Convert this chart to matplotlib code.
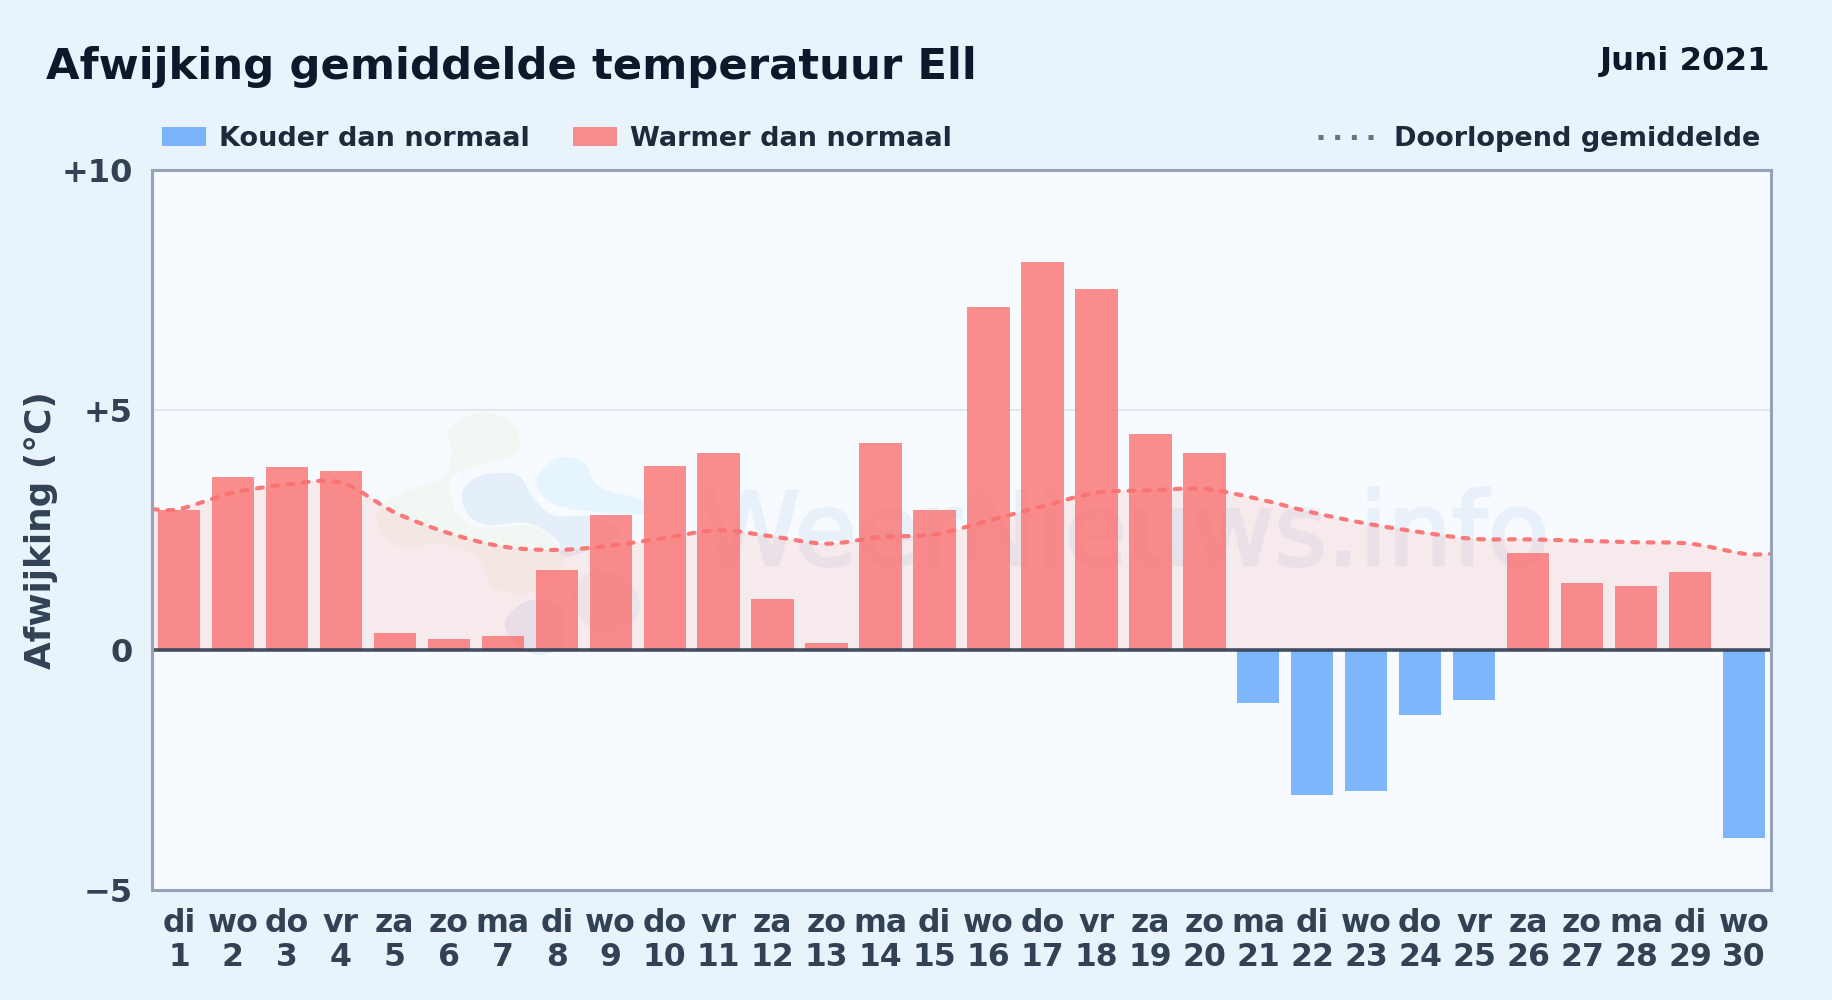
import numpy as np
import matplotlib
matplotlib.use("Agg")
import matplotlib.pyplot as plt
import matplotlib.patheffects as pe
from matplotlib.path import Path
from matplotlib.patches import PathPatch, Rectangle
from matplotlib.lines import Line2D
from matplotlib.transforms import Affine2D

days = list(range(1, 31))
weekdays = ["di", "wo", "do", "vr", "za", "zo", "ma", "di", "wo", "do", "vr", "za", "zo", "ma", "di",
            "wo", "do", "vr", "za", "zo", "ma", "di", "wo", "do", "vr", "za", "zo", "ma", "di", "wo"]
deviation = [2.92, 3.60, 3.80, 3.73, 0.36, 0.23, 0.29, 1.67, 2.81, 3.83, 4.10, 1.06, 0.15, 4.31, 2.92,
             7.14, 8.08, 7.51, 4.50, 4.10, -1.10, -3.02, -2.93, -1.36, -1.05, 2.02, 1.40, 1.33, 1.62, -3.92]
running_mean = [2.93, 3.27, 3.44, 3.48, 2.86, 2.43, 2.15, 2.08, 2.17, 2.33, 2.49, 2.36, 2.21, 2.35, 2.40,
                2.69, 2.99, 3.27, 3.32, 3.35, 3.14, 2.86, 2.63, 2.45, 2.31, 2.30, 2.27, 2.24, 2.21, 2.00]
y_ticks = [-5, 0, 5, 10]
y_tick_labels = ["\u22125", "0", "+5", "+10"]

W, H = 1832, 1000
BG = "#e8f3fc"
PLOT_BG = "#f7fbff"
RED = "#fa7272"
BLUE = "#60a5fa"
INK = "#0f172a"
LEGEND_INK = "#1e293b"
AXIS_INK = "#334155"
plt.rcParams["font.family"] = "DejaVu Sans"
plt.rcParams["lines.scale_dashes"] = False

fig = plt.figure(figsize=(W / 100, H / 100), dpi=100, facecolor=BG)
L, R, T, B = 152, 1771, 169.5, 890
ax = fig.add_axes([L / W, 1 - B / H, (R - L) / W, (B - T) / H], facecolor=PLOT_BG)
ax.set_xlim(0.5, 30.5)
ax.set_ylim(-5, 10)
px = Affine2D().scale(1, -1).translate(0, H)


def closed_blob(points):
    p = np.array(points, float)
    n = len(p)
    verts, codes = [p[0]], [Path.MOVETO]
    for i in range(n):
        p0, p1, p2, p3 = p[i - 1], p[i], p[(i + 1) % n], p[(i + 2) % n]
        verts += [p1 + (p2 - p0) / 6, p2 - (p3 - p1) / 6, p2]
        codes += [Path.CURVE4] * 3
    return Path(verts, codes)


logo_shapes = [
    ("#d5ecb8", 0.17, [(380, 507), (380, 533), (403, 547), (440, 543), (477, 557), (493, 587), (527, 593),
                       (560, 573), (563, 557), (550, 537), (527, 525), (487, 528), (460, 517), (450, 490),
                       (457, 473), (483, 465), (517, 453), (517, 430), (500, 415), (470, 415), (448, 430),
                       (452, 453), (443, 477), (410, 490)]),
    ("#8fb6e0", 0.17, [(463, 490), (483, 475), (517, 475), (533, 497), (553, 515), (593, 517), (620, 533),
                       (567, 557), (557, 540), (527, 523), (487, 525), (467, 513)]),
    ("#a6d8fa", 0.20, [(537, 477), (557, 458), (583, 462), (600, 487), (643, 500), (653, 513), (613, 513),
                       (567, 508), (543, 497)]),
    ("#8fa6d0", 0.15, [(507, 617), (530, 600), (560, 607), (563, 633), (560, 648), (540, 655), (520, 648),
                       (507, 633)]),
    ("#8fa6d0", 0.09, [(573, 590), (593, 570), (627, 580), (640, 607), (627, 627), (600, 633), (580, 617)]),
]
for colour, alpha, shape in logo_shapes:
    ax.add_patch(PathPatch(closed_blob(shape), transform=px, facecolor=colour, edgecolor="none",
                           alpha=alpha, zorder=1))

ax.text(700, 565, "WeerNieuws.info", transform=px, fontsize=73, color="#e8f0f9", ha="left", va="baseline",
        zorder=1, clip_on=True,
        path_effects=[pe.withStroke(linewidth=2.2, foreground="#e8f0f9")])

ax.axhline(5, color="#e2e8f0", lw=1.5, zorder=1.5)

# running mean as a smooth curve through the daily values, held flat to the plot edges
mx = np.array([0.5] + days + [30.5], float)
my = np.array([running_mean[0]] + running_mean + [running_mean[-1]], float)
verts, codes = [(mx[0], my[0])], [Path.MOVETO]
for i in range(len(mx) - 1):
    a = i - 1 if i > 0 else 0
    d = i + 2 if i + 2 < len(mx) else i + 1
    c1 = (mx[i] + (mx[i + 1] - mx[a]) / 6, my[i] + (my[i + 1] - my[a]) / 6)
    c2 = (mx[i + 1] - (mx[d] - mx[i]) / 6, my[i + 1] - (my[d] - my[i]) / 6)
    verts += [c1, c2, (mx[i + 1], my[i + 1])]
    codes += [Path.CURVE4] * 3
area_verts = verts + [(mx[-1], 0), (mx[0], 0), (mx[0], my[0])]
area_codes = codes + [Path.LINETO, Path.LINETO, Path.CLOSEPOLY]
ax.add_patch(PathPatch(Path(area_verts, area_codes), facecolor=RED, edgecolor="none", alpha=0.12, zorder=2))

colors = [RED if v >= 0 else BLUE for v in deviation]
ax.bar(days, deviation, width=0.785, color=colors, alpha=0.8, linewidth=0, zorder=3)

ax.add_patch(PathPatch(Path(verts, codes), facecolor="none", edgecolor=RED, lw=3.0, alpha=0.95,
                       linestyle=(0, (4.2, 6.9)), capstyle="round", zorder=5))
ax.axhline(0, color=AXIS_INK, lw=2.6, alpha=0.92, zorder=4)

for s in ax.spines.values():
    s.set_color("#94a3b8")
    s.set_linewidth(2.2)
    s.set_zorder(6)

ax.set_yticks(y_ticks)
ax.set_yticklabels(y_tick_labels, fontsize=23, fontweight="bold", color=AXIS_INK)
ax.set_xticks(days)
ax.set_xticklabels([f"{w}\n{d}" for w, d in zip(weekdays, days)], fontsize=22.7, fontweight="bold",
                   color=AXIS_INK, linespacing=1.11)
ax.tick_params(axis="y", length=0, pad=14)
ax.tick_params(axis="x", length=0, pad=13)
ax.set_ylabel("Afwijking (\u00b0C)", fontsize=25.8, fontweight="bold", color=AXIS_INK)
ax.yaxis.set_label_coords((41 - L) / (R - L), 0.5)
ax.yaxis.label.set_va("center")

fig.text(46 / W, 1 - 79 / H, "Afwijking gemiddelde temperatuur Ell", fontsize=31.2, fontweight="bold",
         color=INK, ha="left", va="baseline")
fig.text(1770 / W, 1 - 70 / H, "Juni 2021", fontsize=23.3, fontweight="bold", color=INK, ha="right", va="baseline")

for x0, colour, label, tx in [(162, BLUE, "Kouder dan normaal", 219), (573, RED, "Warmer dan normaal", 630)]:
    fig.add_artist(Rectangle((x0, 127), 44, 19, transform=px, facecolor=colour, alpha=0.8, edgecolor="none"))
    fig.text(tx / W, 1 - 146 / H, label, fontsize=19.5, fontweight="bold", color=LEGEND_INK, ha="left", va="baseline")
fig.add_artist(Line2D([1318, 1375], [137, 137], transform=px, color="#6b7280", lw=3.6,
                      linestyle=(0, (3.6, 8.4)), solid_capstyle="butt", dash_capstyle="butt"))
fig.text(1760 / W, 1 - 146 / H, "Doorlopend gemiddelde", fontsize=19.5, fontweight="bold", color=LEGEND_INK,
         ha="right", va="baseline")

fig.savefig("out.png", dpi=100, facecolor=BG)
